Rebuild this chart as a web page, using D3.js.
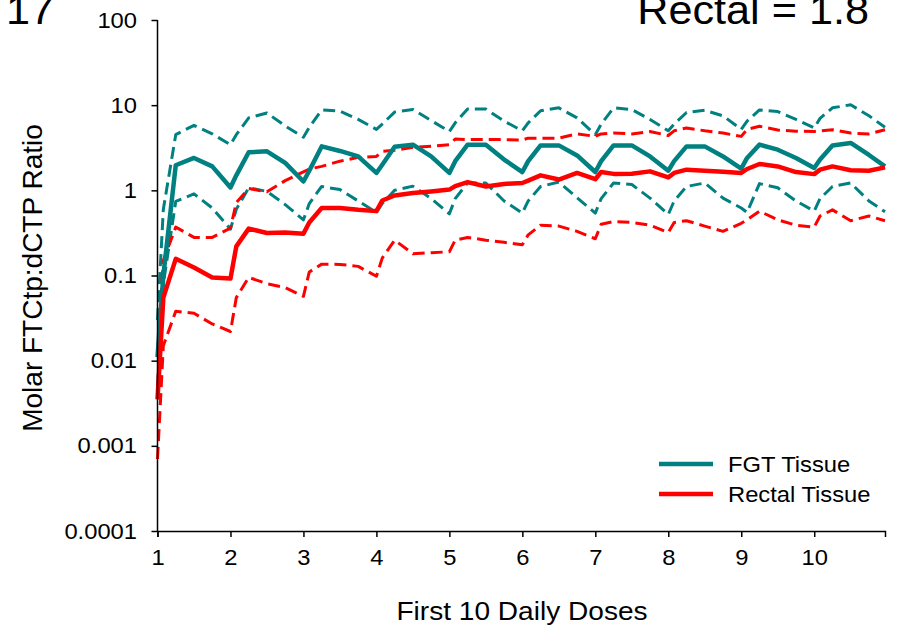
<!DOCTYPE html>
<html>
<head>
<meta charset="utf-8">
<script src="https://d3js.org/d3.v7.min.js"></script>
<style>
  body { margin: 0; background: #fff; }
  text { font-family: Arial, "Liberation Sans", sans-serif; fill: #000; }
</style>
</head>
<body>
<div id="chart"></div>
<script>
// sampling times (days), dose given at the start of each day
var times = [1, 1.08, 1.25, 1.5, 1.75,  2, 2.08, 2.25, 2.5, 2.75,  3, 3.08, 3.25, 3.5, 3.75,
             4, 4.08, 4.25, 4.5, 4.75,  5, 5.08, 5.25, 5.5, 5.75,  6, 6.08, 6.25, 6.5, 6.75,
             7, 7.08, 7.25, 7.5, 7.75,  8, 8.08, 8.25, 8.5, 8.75,  9, 9.08, 9.25, 9.5, 9.75,
             10, 10.08, 10.25, 10.5, 10.75, 10.97];

var fgtMedian = [0.011, 0.1, 1.97, 2.4, 1.91,  1.08, 1.5, 2.8, 2.87, 2.1,  1.27, 1.7, 3.28, 2.9, 2.5,
                 1.6, 2.0, 3.25, 3.44, 2.5,  1.6, 2.2, 3.44, 3.44, 2.3,  1.64, 2.2, 3.37, 3.37, 2.57,
                 1.64, 2.2, 3.37, 3.37, 2.5,  1.7, 2.2, 3.28, 3.28, 2.5,  1.8, 2.4, 3.44, 3.0, 2.4,
                 1.83, 2.3, 3.37, 3.6, 2.6,  1.91];
var fgtUpper = [0.03, 0.6, 4.5, 5.8, 4.6,  3.44, 4.5, 7.1, 8.1, 5.7,  4.2, 5.5, 8.8, 8.5, 6.8,
                5.2, 6.0, 8.3, 8.9, 6.6,  4.9, 6.2, 9.0, 9.0, 6.5,  5.0, 6.2, 8.6, 9.3, 7.1,
                4.5, 6.0, 9.3, 8.9, 6.8,  5.0, 6.0, 8.2, 8.7, 7.5,  5.2, 6.5, 8.8, 8.4, 6.8,
                5.4, 7.0, 9.3, 10.1, 7.5,  5.5];
var fgtLower = [0.005, 0.08, 0.74, 0.91, 0.62,  0.35, 0.6, 1.07, 0.97, 0.68,  0.45, 0.7, 1.11, 1.02, 0.75,
                0.55, 0.7, 1.0, 1.12, 0.8,  0.53, 0.8, 1.22, 1.22, 0.75,  0.54, 0.75, 1.11, 1.25, 0.82,
                0.54, 0.8, 1.22, 1.17, 0.81,  0.52, 0.75, 1.11, 1.22, 0.81,  0.62, 0.55, 1.2, 1.07, 0.75,
                0.57, 0.8, 1.11, 1.22, 0.75,  0.56];

var rectalMedian = [0.0035, 0.055, 0.157, 0.124, 0.095,  0.092, 0.22, 0.355, 0.316, 0.32,  0.31, 0.42, 0.62, 0.62, 0.59,
                    0.57, 0.76, 0.87, 0.93, 0.97,  1.02, 1.12, 1.25, 1.11, 1.19,  1.22, 1.3, 1.5, 1.34, 1.6,
                    1.35, 1.64, 1.56, 1.57, 1.67,  1.42, 1.6, 1.75, 1.7, 1.65,  1.6, 1.78, 2.04, 1.91, 1.64,
                    1.55, 1.75, 1.91, 1.72, 1.7,  1.86];
var rectalUpper = [0.012, 0.15, 0.37, 0.28, 0.28,  0.36, 0.72, 1.05, 0.96, 1.3,  1.65, 1.78, 1.91, 2.2, 2.44,
                   2.5, 2.87, 2.95, 3.2, 3.3,  3.44, 4.0, 3.95, 3.94, 3.94,  3.9, 4.1, 4.1, 4.1, 4.6,
                   4.3, 4.6, 4.7, 4.6, 4.9,  4.4, 5.0, 5.4, 5.0, 4.7,  4.3, 5.2, 5.65, 5.1, 4.95,
                   4.9, 5.0, 5.15, 4.7, 4.6,  5.15];
var rectalLower = [0.0007, 0.015, 0.038, 0.036, 0.027,  0.022, 0.055, 0.095, 0.08, 0.072,  0.057, 0.11, 0.136, 0.135, 0.128,
                   0.098, 0.16, 0.26, 0.18, 0.185,  0.19, 0.26, 0.28, 0.26, 0.245,  0.23, 0.3, 0.39, 0.38, 0.33,
                   0.27, 0.4, 0.43, 0.42, 0.39,  0.32, 0.42, 0.44, 0.38, 0.33,  0.41, 0.45, 0.57, 0.45, 0.39,
                   0.37, 0.5, 0.59, 0.44, 0.5,  0.44];

var yTicks = [0.0001, 0.001, 0.01, 0.1, 1, 10, 100];
var yTickLabels = ["0.0001", "0.001", "0.01", "0.1", "1", "10", "100"];
var xTicks = [1, 2, 3, 4, 5, 6, 7, 8, 9, 10];

var width = 897, height = 627;
var teal = "#008080", red = "#ff0000";
var stretch = "scale(1.08,1)";   // text is set slightly wide

var svg = d3.select("#chart").append("svg")
  .attr("width", width)
  .attr("height", height);

var x = d3.scaleLinear().domain([1, 10.97]).range([157.5, 885]);
var y = d3.scaleLog().domain([0.0001, 100]).range([531, 20]);

var line = d3.line()
  .x(function(d) { return x(d.t); })
  .y(function(d) { return y(d.v); });

function pairs(vals) {
  return times.map(function(t, i) { return {t: t, v: vals[i]}; });
}

// dashed = range bands, solid = median
var series = [
  {vals: fgtUpper, color: teal, w: 3, dash: "12,6"},
  {vals: fgtLower, color: teal, w: 3, dash: "12,6"},
  {vals: rectalUpper, color: red, w: 3, dash: "12,6"},
  {vals: rectalLower, color: red, w: 3, dash: "12,6"},
  {vals: fgtMedian, color: teal, w: 4.5, dash: null},
  {vals: rectalMedian, color: red, w: 4.5, dash: null}
];

series.forEach(function(s) {
  svg.append("path")
    .datum(pairs(s.vals))
    .attr("d", line)
    .attr("fill", "none")
    .attr("stroke", s.color)
    .attr("stroke-width", s.w)
    .attr("stroke-linejoin", "round")
    .attr("stroke-dasharray", s.dash);
});

// axes
var yAxis = d3.axisLeft(y)
  .tickValues(yTicks)
  .tickFormat(function(d, i) { return yTickLabels[i]; })
  .tickSizeOuter(0)
  .tickSize(6)
  .tickPadding(13);
var gy = svg.append("g").attr("transform", "translate(157.5,0)").call(yAxis);

var xAxis = d3.axisBottom(x)
  .tickValues(xTicks)
  .tickFormat(d3.format("d"))
  .tickSizeOuter(0)
  .tickSize(6)
  .tickPadding(12);
var gx = svg.append("g").attr("transform", "translate(0,531)").call(xAxis);

[gx, gy].forEach(function(g) {
  g.select(".domain").attr("stroke", "#000").attr("stroke-width", 1.5);
  g.selectAll(".tick line").attr("stroke", "#000").attr("stroke-width", 1.5);
  g.selectAll(".tick text").style("font-size", "22px").attr("fill", "#000")
    .style("font-family", "Arial, 'Liberation Sans', sans-serif")
    .attr("transform", stretch);
});
gy.select(".domain").attr("d", "M0,20V531");

// axis titles
svg.append("text")
  .attr("transform", "translate(522,620) " + stretch)
  .attr("text-anchor", "middle")
  .style("font-size", "26px")
  .text("First 10 Daily Doses");

svg.append("text")
  .attr("transform", "translate(42,278) rotate(-90)")
  .attr("text-anchor", "middle")
  .style("font-size", "28px")
  .text("Molar FTCtp:dCTP Ratio");

// corner labels
svg.append("text")
  .attr("transform", "translate(6,24) " + stretch)
  .style("font-size", "40px")
  .text("17");

svg.append("text")
  .attr("transform", "translate(869,24) " + stretch)
  .attr("text-anchor", "end")
  .style("font-size", "40px")
  .text("Rectal = 1.8");

// legend
var legend = [
  {name: "FGT Tissue", color: teal},
  {name: "Rectal Tissue", color: red}
];
var lg = svg.append("g").attr("transform", "translate(659,464)");
legend.forEach(function(l, i) {
  lg.append("line")
    .attr("x1", 0).attr("x2", 54)
    .attr("y1", i * 30).attr("y2", i * 30)
    .attr("stroke", l.color)
    .attr("stroke-width", 4.5);
  lg.append("text")
    .attr("transform", "translate(69," + (i * 30 + 8) + ") " + stretch)
    .style("font-size", "22px")
    .text(l.name);
});
</script>
</body>
</html>
